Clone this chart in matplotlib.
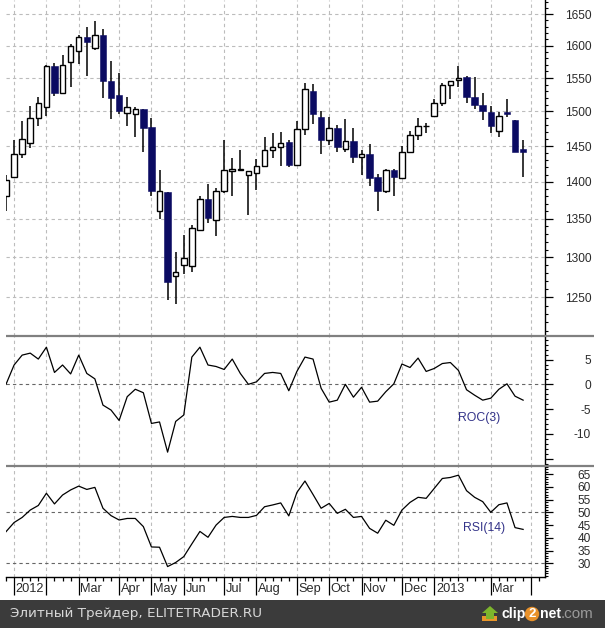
import matplotlib
matplotlib.use("Agg")
import matplotlib.pyplot as plt
from matplotlib.patches import Circle, Polygon, Rectangle
from matplotlib.ticker import FixedLocator, NullFormatter

# ---------------------------------
# Weekly candles, prices
# ---------------------------------
opens = [1381, 1407, 1439, 1454, 1491, 1507, 1568, 1527, 1574, 1592, 1613, 1596, 1617,
         1545, 1524, 1498, 1496, 1504, 1477, 1361, 1386, 1276, 1290, 1289, 1336, 1377,
         1349, 1387, 1415, 1417, 1410, 1412, 1422, 1445, 1448, 1456, 1423, 1474, 1531,
         1492, 1458, 1476, 1446, 1457, 1434, 1439, 1406, 1387, 1416, 1405, 1441, 1466,
         1479, 1494, 1513, 1540, 1547, 1551, 1522, 1509, 1499, 1472, 1499, 1488, 1446]
highs = [1410, 1459, 1486, 1508, 1522, 1570, 1573, 1586, 1602, 1617, 1629, 1639, 1626,
         1576, 1558, 1521, 1507, 1504, 1491, 1417, 1386, 1307, 1329, 1342, 1381, 1397,
         1391, 1459, 1433, 1445, 1415, 1432, 1463, 1468, 1470, 1458, 1486, 1542, 1541,
         1500, 1492, 1480, 1489, 1476, 1445, 1453, 1411, 1418, 1418, 1450, 1472, 1491,
         1483, 1519, 1543, 1545, 1568, 1553, 1551, 1527, 1508, 1499, 1519, 1488, 1459]
lows = [1361, 1407, 1433, 1447, 1479, 1494, 1523, 1527, 1537, 1572, 1553, 1593, 1520,
        1489, 1496, 1479, 1463, 1441, 1381, 1350, 1247, 1242, 1279, 1282, 1336, 1344,
        1328, 1385, 1381, 1415, 1355, 1389, 1420, 1433, 1422, 1420, 1423, 1466, 1482,
        1439, 1451, 1441, 1441, 1426, 1409, 1394, 1361, 1385, 1381, 1405, 1440, 1459,
        1469, 1494, 1508, 1519, 1536, 1513, 1503, 1488, 1469, 1463, 1492, 1441, 1407]
closes = [1403, 1439, 1460, 1491, 1512, 1569, 1527, 1570, 1600, 1614, 1605, 1617, 1546,
          1520, 1501, 1506, 1504, 1476, 1387, 1387, 1269, 1281, 1299, 1338, 1376, 1351,
          1388, 1417, 1418, 1418, 1415, 1422, 1445, 1449, 1454, 1423, 1475, 1534, 1496,
          1459, 1476, 1449, 1457, 1435, 1439, 1405, 1387, 1417, 1407, 1442, 1466, 1479,
          1479, 1512, 1539, 1545, 1550, 1522, 1510, 1500, 1479, 1494, 1497, 1442, 1441]

# ---------------------------------
# Indicators
# ---------------------------------
roc_values = [0, 3.9, 5.9, 6.3, 5.1, 7.5, 2.4, 3.9, 2.1, 5.9, 2.2, 1.1, -4.2, -5.2, -7.3,
              -2.5, -1.0, -1.7, -7.9, -7.6, -13.7, -7.5, -6.2, 5.5, 7.5, 3.9, 3.6, 3.0,
              5.1, 2.2, 0, 0.5, 2.2, 2.4, 2.2, -1.3, 2.6, 5.5, 5.1, -0.8, -3.6, -3.2, 0,
              -2.6, -0.6, -3.6, -3.4, -1.5, 0.1, 4.1, 3.4, 5.3, 2.6, 3.2, 4.2, 4.4, 2.8,
              -1.1, -2.2, -3.2, -2.8, -1.0, 0.1, -2.4, -3.2]
rsi_values = [42.4, 46, 48, 50.9, 52.7, 57.5, 53.3, 56.8, 58.8, 60.3, 59, 59.8, 51.6, 48.7,
              47, 47.6, 47.6, 44.4, 36.4, 36.3, 28.7, 30.3, 32.6, 37.6, 42.5, 40.2, 45, 48,
              48.4, 48, 48, 48.8, 52.2, 52.9, 53.7, 48.6, 57.8, 62.3, 57, 51.6, 53.5, 49.6,
              51.2, 48, 48.4, 43.7, 41.8, 46.9, 44.9, 50.9, 53.9, 55.9, 55.5, 59.4, 63.3,
              63.7, 64.6, 58.5, 55.9, 54.2, 50, 53, 53.7, 44, 43.3]

# ---------------------------------
# Axis labels and month boundaries (bar numbers)
# ---------------------------------
price_ticks = [1250, 1300, 1350, 1400, 1450, 1500, 1550, 1600, 1650]
roc_ticks = [-15, -10, -5, 0, 5]
roc_labels = ["", "-10", "-5", "0", "5"]
rsi_ticks = [30, 35, 40, 45, 50, 55, 60, 65]
month_bars = [1, 5, 9, 14, 18, 22, 27, 31, 36, 40, 44, 49, 53, 60, 65]
month_names = ["2012", "", "Mar", "Apr", "May", "Jun", "Jul", "Aug", "Sep", "Oct", "Nov",
               "Dec", "2013", "Mar", ""]
grid_bars = month_bars + [56]

NAVY = "#0b0b62"
GRID = "#bcbcbc"
LEVEL = "#666666"
DASH = (3, 2.8)
W, H = 605, 628
BAR_PX = 8.08
LEFT, RIGHT = 6, 545

plt.rcParams["font.family"] = ["Liberation Sans", "DejaVu Sans"]
fig = plt.figure(figsize=(W / 100, H / 100), dpi=100)


def panel(top, bottom):
    """Axes placed by pixel rows of the picture."""
    ax = fig.add_axes([LEFT / W, 1 - bottom / H, (RIGHT - LEFT) / W, (bottom - top) / H])
    ax.set_xlim(0, (RIGHT - LEFT) / BAR_PX)
    for side in ["left", "top", "bottom"]:
        ax.spines[side].set_visible(False)
    ax.spines["right"].set_linewidth(1.0)
    ax.patch.set_alpha(0)
    ax.yaxis.tick_right()
    ax.tick_params(axis="y", which="major", length=5.8, width=0.9, pad=27.4, labelsize=8.6,
                   labelcolor="#2a2a2a")
    ax.tick_params(axis="y", which="minor", length=2.4, width=0.8)
    ax.set_xticks([])
    for b in grid_bars:
        ax.axvline(b, color=GRID, lw=0.8, dashes=DASH, zorder=1)
    return ax


def set_y(ax, ticks, labels, minor):
    ax.yaxis.set_major_locator(FixedLocator(ticks))
    ax.set_yticklabels(labels)
    ax.yaxis.set_minor_locator(FixedLocator(minor))
    ax.yaxis.set_minor_formatter(NullFormatter())
    for label in ax.get_yticklabels():
        label.set_horizontalalignment("right")


# ---------------------------------
# Price panel (log scale)
# ---------------------------------
ax_price = panel(0, 336)
ax_price.set_yscale("log")
ax_price.set_ylim(1203.5, 1673.3)
set_y(ax_price, price_ticks, [str(t) for t in price_ticks], list(range(1210, 1680, 10)))
for p in price_ticks:
    ax_price.axhline(p, color=GRID, lw=0.8, dashes=DASH, zorder=1)

for i in range(len(opens)):
    low_body = min(opens[i], closes[i])
    high_body = max(opens[i], closes[i])
    ax_price.vlines(i, lows[i], highs[i], color="black", lw=1.1, zorder=2)
    if closes[i] >= opens[i]:
        ax_price.bar(i, high_body - low_body, bottom=low_body, width=0.68, facecolor="white",
                     edgecolor="black", linewidth=1.0, zorder=3)
    else:
        ax_price.bar(i, high_body - low_body, bottom=low_body, width=0.8, facecolor=NAVY,
                     edgecolor=NAVY, linewidth=0.4, zorder=3)

# ---------------------------------
# ROC panel
# ---------------------------------
ax_roc = panel(336, 466)
ax_roc.set_ylim(-16.5, 9.76)
set_y(ax_roc, roc_ticks, roc_labels, list(range(-16, 10)))
ax_roc.axhline(0, color=LEVEL, lw=0.8, dashes=DASH, zorder=1)
ax_roc.plot(range(len(roc_values)), roc_values, color="black", lw=0.9, zorder=3)
ax_roc.text(55.9, -6.75, "ROC(3)", color="#34348a", fontsize=8.8, va="center", ha="left")

# ---------------------------------
# RSI panel with the bar-number strip below it
# ---------------------------------
ax_rsi = panel(466, 576.5)
ax_rsi.set_ylim(24.8, 68.2)
set_y(ax_rsi, rsi_ticks, [str(t) for t in rsi_ticks], list(range(25, 69)))
for level in [30, 50]:
    ax_rsi.axhline(level, color=LEVEL, lw=0.8, dashes=DASH, zorder=1)
ax_rsi.plot(range(len(rsi_values)), rsi_values, color="black", lw=0.9, zorder=3)
ax_rsi.text(56.5, 43.8, "RSI(14)", color="#34348a", fontsize=8.8, va="center", ha="left")

ax_rsi.spines["bottom"].set_visible(True)
ax_rsi.spines["bottom"].set_linewidth(1.0)
ax_rsi.set_xticks(month_bars)
ax_rsi.set_xticklabels([])
ax_rsi.set_xticks(list(range(0, 67)), minor=True)
ax_rsi.tick_params(axis="x", which="major", length=13, width=0.9)
ax_rsi.tick_params(axis="x", which="minor", length=3, width=0.9)
for b, name in zip(month_bars, month_names):
    ax_rsi.annotate(name, xy=(b, 0), xycoords=("data", "axes fraction"), xytext=(1.2, -8.8),
                    textcoords="offset points", fontsize=9.2, color="#2a2a2a",
                    ha="left", va="center")

# ---------------------------------
# Overlay in picture pixels: separators, footer bar, logo
# ---------------------------------
overlay = fig.add_axes([0, 0, 1, 1], facecolor="none", zorder=5)
overlay.set_axis_off()
overlay.set_xlim(0, W)
overlay.set_ylim(H, 0)

for row in [336, 466]:
    overlay.plot([LEFT, 594], [row, row], color="#808080", lw=1.6, solid_capstyle="butt")

overlay.add_patch(Rectangle((0, 600), W, 28, facecolor="#3b3b3b", edgecolor="none"))
overlay.text(10, 614, "Элитный Трейдер, ELITETRADER.RU", color="#d8d8d8", fontsize=9.7,
             family=["DejaVu Sans"], va="center", ha="left")

# clip2net logo
overlay.add_patch(Polygon([(482, 621), (482, 616), (497, 616), (497, 621)], closed=True,
                          facecolor="#e8962a", edgecolor="none"))
overlay.add_patch(Polygon([(490, 606), (498, 613), (494, 613), (494, 619), (486, 619),
                           (486, 613), (482, 613)], closed=True,
                          facecolor="#7db52c", edgecolor="none"))
overlay.text(501.5, 614, "clip", color="white", fontsize=10.2, fontweight="bold",
             ha="left", va="center")
overlay.add_patch(Circle((532, 614), 7.2, facecolor="#e8912a", edgecolor="none"))
overlay.text(532, 614, "2", color="white", fontsize=9.5, fontweight="bold",
             ha="center", va="center")
overlay.text(540, 614, "net", color="white", fontsize=10.2, fontweight="bold",
             ha="left", va="center")
overlay.text(561, 614, ".com", color="#9a9a9a", fontsize=11, ha="left", va="center")

fig.savefig("out.png", dpi=100)
